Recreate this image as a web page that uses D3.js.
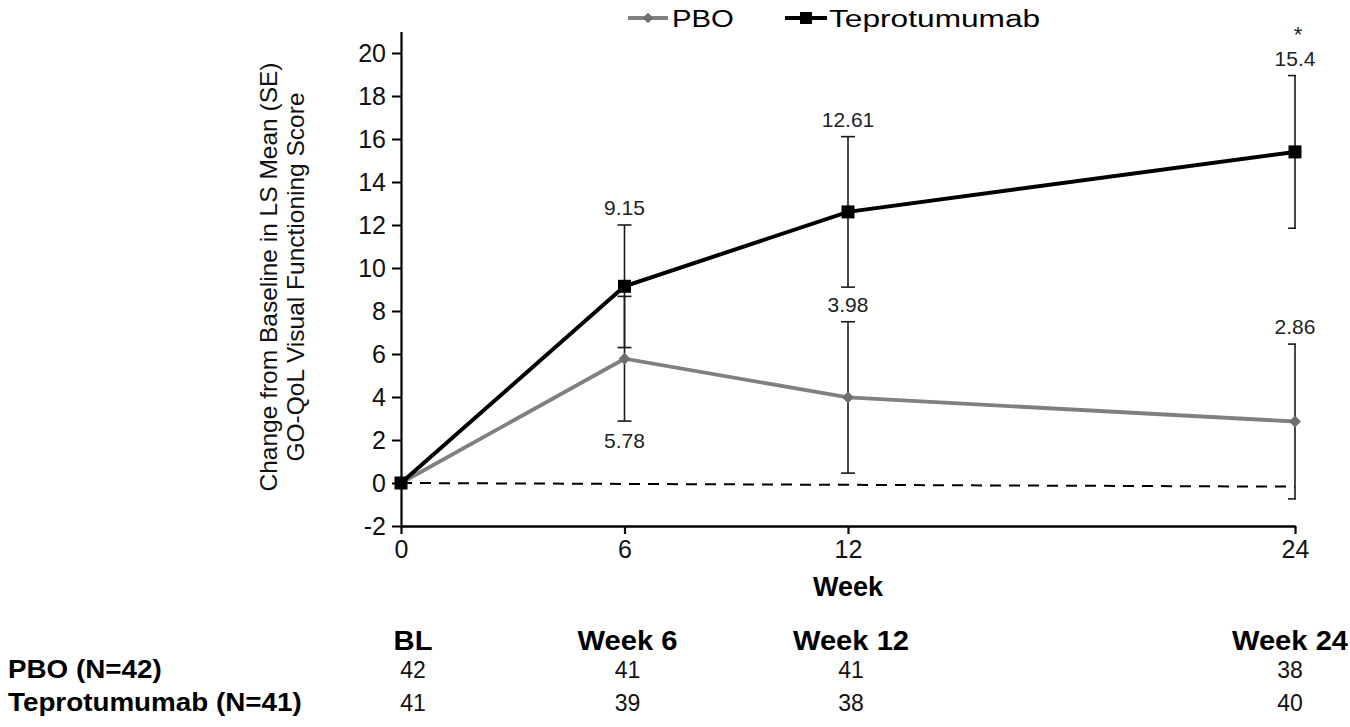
<!DOCTYPE html>
<html>
<head>
<meta charset="utf-8">
<script src="https://cdn.jsdelivr.net/npm/d3@7"></script>
<style>
  body { margin: 0; background: #fff; }
  svg { display: block; font-family: "Liberation Sans", Arial, sans-serif; }
</style>
</head>
<body>
<svg id="chart"></svg>
<script>
// chart size
const width = 1350;
const height = 727;

// data
const weeks = [0, 6, 12, 24];
const pboMean = [0, 5.78, 3.98, 2.86];
const pboSE = [0, 2.9, 3.52, 3.6];
const teproMean = [0, 9.15, 12.61, 15.4];
const teproSE = [0, 2.85, 3.5, 3.55];
const pboLabels = ["", "5.78", "3.98", "2.86"];
const pboLabelSide = ["", "below", "above", "above"];
const teproLabels = ["", "9.15", "12.61", "15.4"];
const teproLabelSide = ["", "above", "above", "above"];
const refLine = [0, -0.17]; // dashed no-change line, start and end value
const yTicks = [-2, 0, 2, 4, 6, 8, 10, 12, 14, 16, 18, 20];

// numbers at risk table
const tableHeads = ["BL", "Week 6", "Week 12", "Week 24"];
const pboN = [42, 41, 41, 38];
const teproN = [41, 39, 38, 40];
const rowNames = ["PBO (N=42)", "Teprotumumab (N=41)"];

const svg = d3.select("#chart")
    .attr("width", width)
    .attr("height", height)
    .attr("viewBox", [0, 0, width, height]);

// scales
const x = d3.scaleLinear().domain([0, 24]).range([401, 1295]);
const y = d3.scaleLinear().domain([-2, 21]).range([526, 31.5]);

const pbo = weeks.map((w, i) => ({ week: w, mean: pboMean[i], se: pboSE[i], label: pboLabels[i], side: pboLabelSide[i] }));
const tepro = weeks.map((w, i) => ({ week: w, mean: teproMean[i], se: teproSE[i], label: teproLabels[i], side: teproLabelSide[i] }));

// clip so the last error caps only show on the left side
svg.append("clipPath").attr("id", "plotclip")
    .append("rect")
    .attr("x", 0).attr("y", 0)
    .attr("width", x(24) + 1).attr("height", height);

// y axis
svg.append("g")
    .attr("transform", `translate(${x(0)},0)`)
    .call(d3.axisLeft(y).tickValues(yTicks).tickFormat(d => String(d))
        .tickSize(9).tickSizeOuter(0).tickPadding(6))
    .call(g => g.select(".domain").attr("stroke-width", 2.2))
    .call(g => g.selectAll(".tick line").attr("stroke-width", 2))
    .call(g => g.selectAll("text").attr("font-size", 25).attr("fill", "#111"));

// x axis
svg.append("g")
    .attr("transform", `translate(0,${y(-2)})`)
    .call(d3.axisBottom(x).tickValues(weeks).tickSize(8).tickSizeOuter(0).tickPadding(6))
    .call(g => g.select(".domain").attr("stroke-width", 2.4))
    .call(g => g.selectAll(".tick line").attr("stroke-width", 2.2))
    .call(g => g.selectAll("text").attr("font-size", 25).attr("fill", "#111"));

// axis titles
svg.append("text")
    .attr("x", x(12)).attr("y", 596)
    .attr("text-anchor", "middle")
    .attr("font-size", 27).attr("font-weight", "bold")
    .text("Week");

const yTitle = svg.append("text")
    .attr("transform", "translate(277,277) rotate(-90)")
    .attr("text-anchor", "middle")
    .attr("font-size", 24.5).attr("fill", "#111");
yTitle.append("tspan").attr("x", 0).attr("dy", 0).text("Change from Baseline in LS Mean (SE)");
yTitle.append("tspan").attr("x", 0).attr("dy", 27).text("GO-QoL Visual Functioning Score");

// dashed reference line
svg.append("line")
    .attr("x1", x(0)).attr("y1", y(refLine[0]))
    .attr("x2", x(24)).attr("y2", y(refLine[1]))
    .attr("stroke", "#000").attr("stroke-width", 2)
    .attr("stroke-dasharray", "11,8");

// error bars
const errG = svg.append("g").attr("clip-path", "url(#plotclip)")
    .attr("stroke", "#1a1a1a").attr("stroke-width", 1.6).attr("fill", "none");

function drawErrors(data) {
    const d2 = data.filter(d => d.se > 0);
    errG.selectAll(null).data(d2).join("line")
        .attr("x1", d => x(d.week)).attr("x2", d => x(d.week))
        .attr("y1", d => y(d.mean + d.se)).attr("y2", d => y(d.mean - d.se));
    errG.selectAll(null).data(d2.flatMap(d => [d.mean + d.se, d.mean - d.se].map(v => ({ week: d.week, v }))))
        .join("line")
        .attr("x1", d => x(d.week) - 7).attr("x2", d => x(d.week) + 7)
        .attr("y1", d => y(d.v)).attr("y2", d => y(d.v));
}
drawErrors(tepro);
drawErrors(pbo);

// lines
const line = d3.line().x(d => x(d.week)).y(d => y(d.mean));

svg.append("path").datum(pbo)
    .attr("d", line).attr("fill", "none")
    .attr("stroke", "#808080").attr("stroke-width", 3.8);

svg.append("path").datum(tepro)
    .attr("d", line).attr("fill", "none")
    .attr("stroke", "#000").attr("stroke-width", 4);

// markers
svg.append("g").selectAll("path").data(pbo).join("path")
    .attr("transform", d => `translate(${x(d.week)},${y(d.mean)})`)
    .attr("d", d3.symbol(d3.symbolDiamond2, 90))
    .attr("fill", "#6e6e6e");

svg.append("g").selectAll("rect").data(tepro).join("rect")
    .attr("x", d => x(d.week) - 6.5).attr("y", d => y(d.mean) - 6.5)
    .attr("width", 13).attr("height", 13)
    .attr("fill", "#000");

// value labels
function drawLabels(data) {
    svg.append("g").selectAll("text").data(data.filter(d => d.label)).join("text")
        .attr("x", d => x(d.week))
        .attr("y", d => d.side === "above" ? y(d.mean + d.se) - 10 : y(d.mean - d.se) + 27)
        .attr("text-anchor", "middle")
        .attr("font-size", 21).attr("fill", "#222")
        .text(d => d.label);
}
drawLabels(tepro);
drawLabels(pbo);

// significance star at week 24
svg.append("text")
    .attr("x", x(24) + 3).attr("y", 42)
    .attr("text-anchor", "middle")
    .attr("font-size", 22).attr("fill", "#222")
    .text("*");

// legend
const legend = svg.append("g");
legend.append("line").attr("x1", 628).attr("x2", 668).attr("y1", 18).attr("y2", 18)
    .attr("stroke", "#808080").attr("stroke-width", 4);
legend.append("path").attr("transform", "translate(648,18)")
    .attr("d", d3.symbol(d3.symbolDiamond2, 70)).attr("fill", "#6e6e6e");
legend.append("text").attr("transform", "translate(672,27) scale(1.22,1)")
    .attr("font-size", 24).text("PBO");
legend.append("line").attr("x1", 785).attr("x2", 827).attr("y1", 18).attr("y2", 18)
    .attr("stroke", "#000").attr("stroke-width", 4);
legend.append("rect").attr("x", 800).attr("y", 12).attr("width", 12).attr("height", 12)
    .attr("fill", "#000");
legend.append("text").attr("transform", "translate(829,27) scale(1.32,1)")
    .attr("font-size", 24).text("Teprotumumab");

// numbers at risk table
const table = svg.append("g");
const colX = (w, i) => x(w) + (i === 0 ? 12 : (i === 3 ? -5 : 3));
table.selectAll(".head").data(tableHeads).join("text")
    .attr("transform", (d, i) => `translate(${colX(weeks[i], i)},650) scale(1.08,1)`)
    .attr("text-anchor", "middle")
    .attr("font-size", 27).attr("font-weight", "bold")
    .text(d => d);
[pboN, teproN].forEach((row, r) => {
    table.selectAll(null).data(row).join("text")
        .attr("x", (d, i) => colX(weeks[i], i)).attr("y", 678 + r * 33)
        .attr("text-anchor", "middle")
        .attr("font-size", 23).attr("fill", "#111")
        .text(d => d);
});
table.selectAll(".row").data(rowNames).join("text")
    .attr("transform", (d, i) => `translate(8,${678 + i * 33}) scale(1.07,1)`)
    .attr("font-size", 26).attr("font-weight", "bold")
    .text(d => d);
</script>
</body>
</html>
